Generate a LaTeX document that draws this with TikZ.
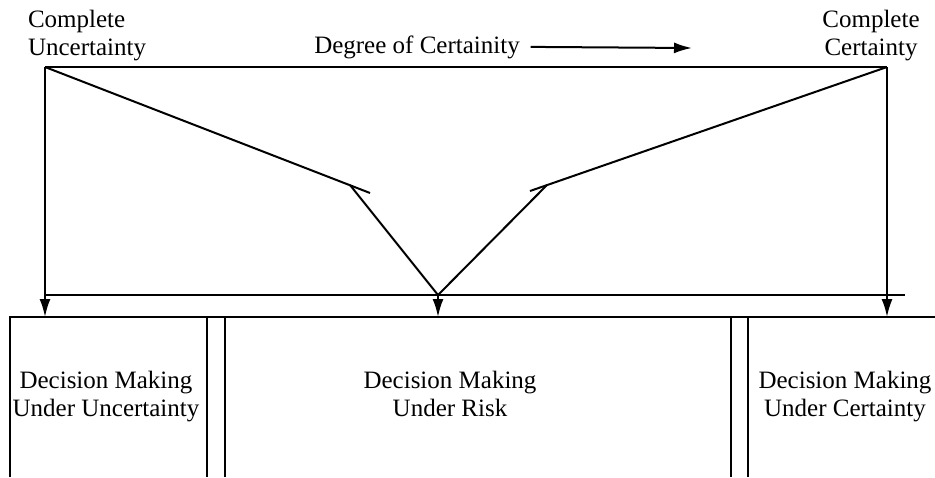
\documentclass[tikz,border=0pt]{standalone}
\usepackage{fontspec}
\setmainfont{Liberation Serif}
\usetikzlibrary{arrows.meta}
\begin{document}
\begin{tikzpicture}[x=0.5pt, y=-0.5pt, line width=1pt]
    \tikzstyle{txt}=[inner sep=0pt, align=center, font=\fontsize{12.5}{14}\selectfont];
    \tikzstyle{arr}=[-{Latex[length=9pt,width=5.5pt]}];

    \useasboundingbox (0,0) rectangle (935,477);

    \node (unc) at (27,55) [txt, anchor=base west, align=left] {Complete\\Uncertainty};
    \node (cer) at (871,55) [txt, anchor=base] {Complete\\Certainty};
    \node (deg) at (417,53) [txt, anchor=base, inner xsep=5pt] {Degree of Certainity};
    \coordinate (degend) at (692,48);

    \coordinate (tl) at (45,67);
    \coordinate (tr) at (887,67);
    \coordinate (bl) at (45,317);
    \coordinate (br) at (887,317);
    \coordinate (hl) at (45,295);
    \coordinate (hr) at (905,295);

    \coordinate (lk) at (350,185);
    \coordinate (le) at (370,193);
    \coordinate (rk) at (547,185);
    \coordinate (re) at (530,191);
    \coordinate (m) at (438,295);
    \coordinate (mb) at (438,317);

    \draw (tl) -- (tr);
    \draw (hl) -- (hr);
    \draw (tl) -- (le);
    \draw (tr) -- (re);
    \draw (lk) -- (m) -- (rk);

    \draw (tl) edge[arr] (bl);
    \draw (tr) edge[arr] (br);
    \draw (m) edge[arr] (mb);
    \draw (deg.east) edge[arr] (degend);

    % the three boxes, open at the bottom
    \draw (10,477) -- (10,317) -- (935,317);
    \foreach \x in {207,225,731,748}
        \draw (\x,317) -- (\x,477);

    \node (dmu) at (106,416) [txt, anchor=base] {Decision Making\\Under Uncertainty};
    \node (dmr) at (450,416) [txt, anchor=base] {Decision Making\\Under Risk};
    \node (dmc) at (845,416) [txt, anchor=base] {Decision Making\\Under Certainty};
\end{tikzpicture}
\end{document}
